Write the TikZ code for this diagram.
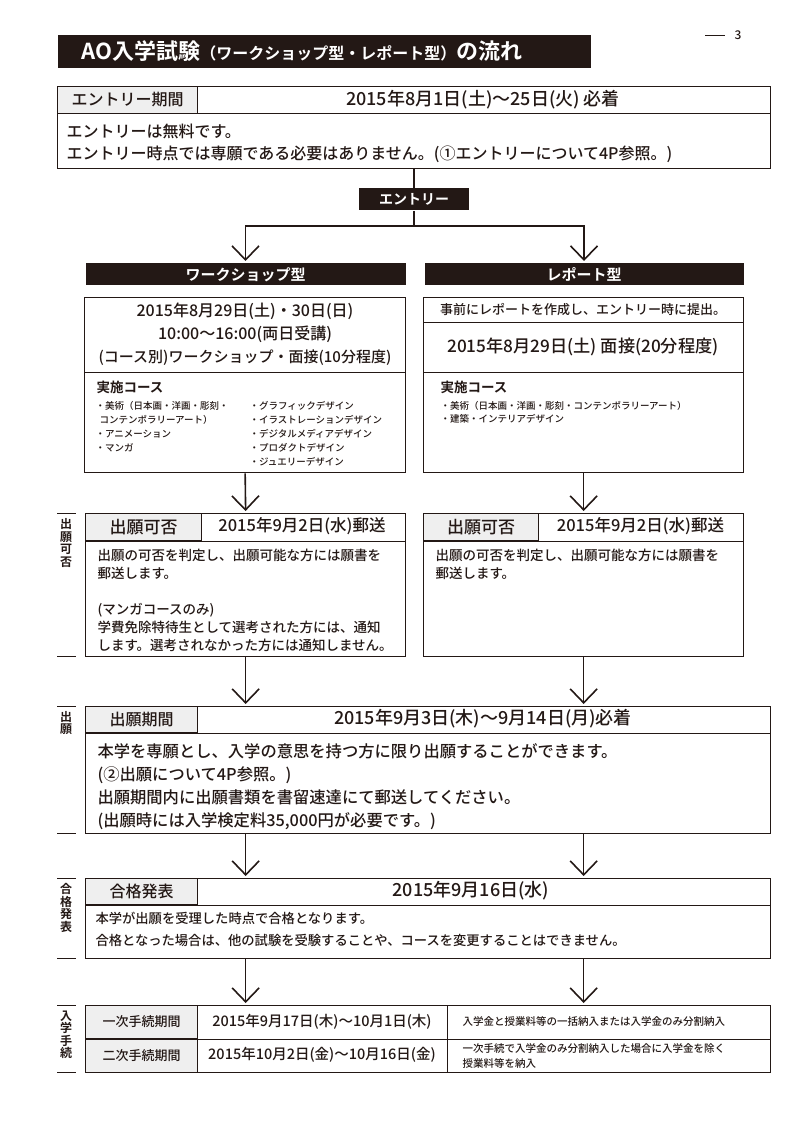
\documentclass[tikz,border=0pt]{standalone}
\usepackage{fontspec}
\setmainfont{Noto Sans CJK JP}[UprightFont={* Medium}, BoldFont={* Bold}]
\usetikzlibrary{arrows.meta,positioning,calc}
\definecolor{ink}{HTML}{231815}
\definecolor{cellgray}{HTML}{EFEFEF}
\newcommand\fz[2]{\fontsize{#1pt}{#2pt}\selectfont}

\begin{document}
\begin{tikzpicture}[x=1pt, y=-1pt, ink, line width=1pt,
    box/.style={draw=ink, line width=1.3pt, anchor=north west, inner sep=0pt},
    cell/.style={draw=ink, fill=cellgray, anchor=north west, inner sep=0pt, font=\fz{16}{18}},
    bar/.style={fill=ink, text=white, anchor=north west, inner sep=0pt, font=\bfseries\fz{15}{18}},
    side/.style={align=center, inner sep=0pt, font=\bfseries\fz{12}{12.5}},
    body/.style={anchor=north west, align=left, inner sep=0pt},
    date/.style={font=\fz{18}{20}, inner sep=0pt},
    arr/.style={-{Straight Barb[length=14pt, width=27pt]}, line width=1.6pt, shorten >=2pt}
]
    \useasboundingbox (0,0) rectangle (800,1131);

    % Title
    \node[bar, minimum width=533pt, minimum height=33pt] (title) at (57,35) {};
    \node[anchor=west, text=white, inner sep=0pt] (titletext) at (81,51.5)
        {\bfseries\fz{22}{24}AO入学試験\fz{16}{18}（ワークショップ型・レポート型）\fz{22}{24}の流れ};
    \node[inner sep=0pt, font=\fz{12}{14}] (pagenum) at (738,35) {3};
    \draw[line width=0.6pt] ($(pagenum.west)+(-29,0)$) -- ++(20,0);

    % Entry period
    \node[cell, minimum width=140pt, minimum height=27pt] (entryhead) at (57,86) {エントリー期間};
    \node[box, minimum width=713pt, minimum height=82pt] (entry) at (57,86) {};
    \draw (entryhead.south west) -- (entryhead.south west -| entry.east);
    \node[date] (entrydate) at (483,99.5) {2015年8月1日(土)～25日(火) 必着};
    \node[body, font=\fz{16}{22}] (entrytext) at (66,123.5)
        {エントリーは無料です。\\エントリー時点では専願である必要はありません。(①エントリーについて4P参照。)};

    % Entry -> two types
    \node[bar, anchor=north, minimum width=110pt, minimum height=22pt, font=\bfseries\fz{14}{16}] (entrybar) at (entry.south |- 0,188) {エントリー};
    \node[bar, minimum width=320pt, minimum height=22pt] (wsbar) at (85,263) {ワークショップ型};
    \node[bar, minimum width=319pt, minimum height=22pt] (rpbar) at (424,263) {レポート型};
    \draw[line width=1.6pt] (entry.south) -- (entrybar.north);
    \draw[line width=1.6pt] (entrybar.south) -- ++(0,15) coordinate (split);
    \draw[arr] (split) -| (wsbar.north);
    \draw[arr] (split) -| (rpbar.north);

    % Workshop type
    \node[box, minimum width=321pt, minimum height=175pt] (ws) at (84,297) {};
    \draw (ws.west |- 0,372) -- (ws.east |- 0,372);
    \node[font=\fz{16}{23}, align=center, inner sep=0pt] (wsdate) at (245,334)
        {2015年8月29日(土)・30日(日)\\10:00～16:00(両日受講)\\{\fz{15}{23}(コース別)ワークショップ・面接(10分程度)}};
    \node[body, font=\bfseries\fz{13.5}{16}] (wscourse) at (96,380.5) {実施コース};
    \node[body, font=\fz{9.5}{14.2}] (wslistl) at (95,400.5)
        {・美術（日本画・洋画・彫刻・\\\hspace*{4pt}コンテンポラリーアート）\\・アニメーション\\・マンガ};
    \node[body, font=\fz{9.5}{14.2}] (wslistr) at (249,400.5)
        {・グラフィックデザイン\\・イラストレーションデザイン\\・デジタルメディアデザイン\\・プロダクトデザイン\\・ジュエリーデザイン};

    % Report type
    \node[box, minimum width=320pt, minimum height=175pt] (rp) at (423,297) {};
    \draw (rp.west |- 0,322) -- (rp.east |- 0,322);
    \draw (rp.west |- 0,372) -- (rp.east |- 0,372);
    \node[font=\fz{13}{15}, inner sep=0pt] (rpsubmit) at (583,310) {事前にレポートを作成し、エントリー時に提出。};
    \node[font=\fz{17.2}{20}, inner sep=0pt] (rpdate) at (583,347) {2015年8月29日(土) 面接(20分程度)};
    \node[body, font=\bfseries\fz{13.5}{16}] (rpcourse) at (440,380.5) {実施コース};
    \node[body, font=\fz{9.5}{13.5}] (rplist) at (440,400.5)
        {・美術（日本画・洋画・彫刻・コンテンポラリーアート）\\・建築・インテリアデザイン};

    % Application result
    \node[cell, minimum width=116pt, minimum height=27pt, font=\fz{17}{19}] (wskahihead) at (85,513) {出願可否};
    \node[box, minimum width=320pt, minimum height=143pt] (wskahi) at (85,513) {};
    \draw (wskahihead.south west) -- (wskahihead.south west -| wskahi.east);
    \node[font=\fz{16.5}{19}, inner sep=0pt] (wskahidate) at (302,526.5) {2015年9月2日(水)郵送};
    \node[body, font=\fz{13.5}{18}] (wskahitext) at (97,548.7)
        {出願の可否を判定し、出願可能な方には願書を\\郵送します。\\[18pt](マンガコースのみ)\\学費免除特待生として選考された方には、通知\\します。選考されなかった方には通知しません。};

    \node[cell, minimum width=115pt, minimum height=27pt, font=\fz{17}{19}] (rpkahihead) at (423,513) {出願可否};
    \node[box, minimum width=320pt, minimum height=143pt] (rpkahi) at (423,513) {};
    \draw (rpkahihead.south west) -- (rpkahihead.south west -| rpkahi.east);
    \node[font=\fz{16.5}{19}, inner sep=0pt] (rpkahidate) at (640.5,526.5) {2015年9月2日(水)郵送};
    \node[body, font=\fz{13.5}{18}] (rpkahitext) at (435,548.7)
        {出願の可否を判定し、出願可能な方には願書を\\郵送します。};

    \draw[arr] (ws.south) -- (wskahi.north);
    \draw[arr] (rp.south) -- (rpkahi.north);

    % Application
    \node[cell, minimum width=112pt, minimum height=26pt] (applyhead) at (85,706) {出願期間};
    \node[box, minimum width=685pt, minimum height=127pt] (apply) at (85,706) {};
    \draw (applyhead.south west) -- (applyhead.south west -| apply.east);
    \node[date] (applydate) at (483,719) {2015年9月3日(木)～9月14日(月)必着};
    \node[body, font=\fz{16.3}{23}] (applytext) at (97,743.3)
        {本学を専願とし、入学の意思を持つ方に限り出願することができます。\\(②出願について4P参照。)\\出願期間内に出願書類を書留速達にて郵送してください。\\(出願時には入学検定料35,000円が必要です。)};

    \draw[arr] (wskahi.south) -- (wskahi.south |- apply.north);
    \draw[arr] (rpkahi.south) -- (rpkahi.south |- apply.north);

    % Result announcement
    \node[cell, minimum width=112pt, minimum height=26pt] (resulthead) at (85,878) {合格発表};
    \node[box, minimum width=685pt, minimum height=80pt] (result) at (85,878) {};
    \draw (resulthead.south west) -- (resulthead.south west -| result.east);
    \node[date] (resultdate) at (471,891) {2015年9月16日(水)};
    \node[body, font=\fz{13.3}{22}] (resulttext) at (95,911.8)
        {本学が出願を受理した時点で合格となります。\\合格となった場合は、他の試験を受験することや、コースを変更することはできません。};

    \draw[arr] (wskahi.south |- apply.south) -- (wskahi.south |- result.north);
    \draw[arr] (rpkahi.south |- apply.south) -- (rpkahi.south |- result.north);

    % Enrollment procedure
    \node[cell, minimum width=112pt, minimum height=33pt, font=\fz{13}{15}] (proc1head) at (85,1005) {一次手続期間};
    \node[cell, minimum width=112pt, minimum height=34pt, font=\fz{13}{15}] (proc2head) at (85,1038) {二次手続期間};
    \node[box, minimum width=685pt, minimum height=67pt] (proc) at (85,1005) {};
    \draw (proc1head.south west) -- (proc1head.south west -| proc.east);
    \draw (proc.north -| 447,0) -- (proc.south -| 447,0);
    \node[font=\fz{14.5}{17}, inner sep=0pt] (proc1date) at (322,1021.5) {2015年9月17日(木)～10月1日(木)};
    \node[font=\fz{14.5}{17}, inner sep=0pt] (proc2date) at (322,1055) {2015年10月2日(金)～10月16日(金)};
    \node[anchor=west, inner sep=0pt, font=\fz{10.5}{15}] (proc1note) at (462,1021.5) {入学金と授業料等の一括納入または入学金のみ分割納入};
    \node[anchor=west, align=left, inner sep=0pt, font=\fz{10.5}{15}] (proc2note) at (462,1055.5) {一次手続で入学金のみ分割納入した場合に入学金を除く\\授業料等を納入};

    \draw[arr] (wskahi.south |- result.south) -- (wskahi.south |- proc.north);
    \draw[arr] (rpkahi.south |- result.south) -- (rpkahi.south |- proc.north);

    % Side labels
    \foreach \ya/\yb in {513/656, 706/833, 878/958, 1005/1072} {
        \draw[line width=0.6pt] (57,\ya) -- (76,\ya);
        \draw[line width=0.6pt] (57,\yb) -- (76,\yb);
    }
    \node[side] (lblkahi) at (66,543) {出\\願\\可\\否};
    \node[side] (lblapply) at (66,723) {出\\願};
    \node[side] (lblresult) at (66,908) {合\\格\\発\\表};
    \node[side] (lblproc) at (66,1035) {入\\学\\手\\続};
\end{tikzpicture}
\end{document}
